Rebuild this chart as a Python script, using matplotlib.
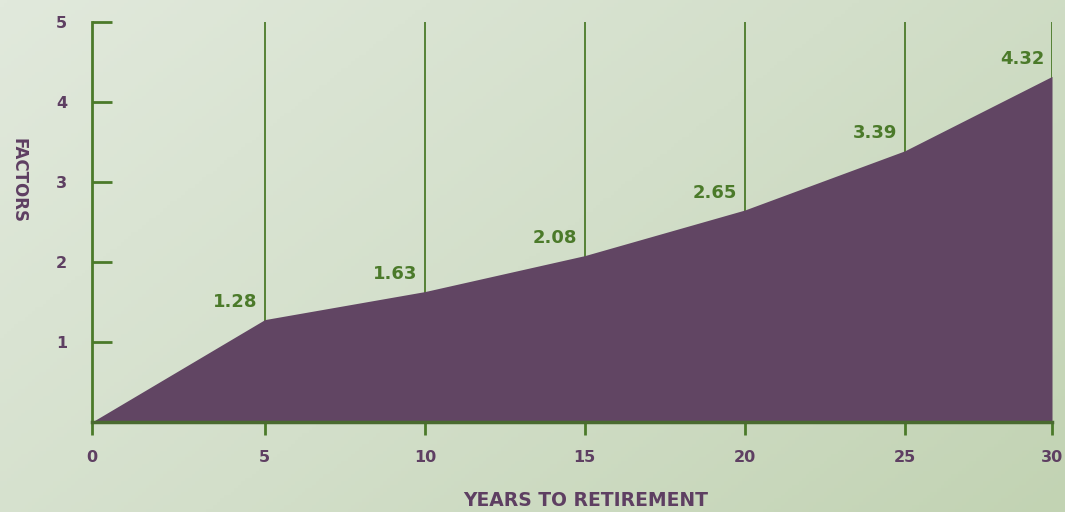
import matplotlib
matplotlib.use("Agg")
import matplotlib.pyplot as plt
import numpy as np
from matplotlib.colors import LinearSegmentedColormap

years = [0, 5, 10, 15, 20, 25, 30]
factors = [0, 1.28, 1.63, 2.08, 2.65, 3.39, 4.32]
value_labels = ["", "1.28", "1.63", "2.08", "2.65", "3.39", "4.32"]
y_ticks = [1, 2, 3, 4, 5]

PURPLE = "#614563"
GREEN = "#4b7a2a"
TICK_PURPLE = "#5e3f62"
FONT = "DejaVu Sans"

# the original chart squeezes the first/last interval a little:
# interior ticks sit ~0.4 units right of a plain linear axis
KNOTS_IN = [0, 5, 25, 30]
KNOTS_OUT = [0, 5.4, 25.4, 30]


def fwd(x):
    return np.interp(x, KNOTS_IN, KNOTS_OUT, left=-np.inf, right=np.inf)


def inv(x):
    return np.interp(x, KNOTS_OUT, KNOTS_IN)


fig = plt.figure(figsize=(10.65, 5.12), dpi=100)

# background gradient, light top-left -> darker green bottom-right
bg = fig.add_axes([0, 0, 1, 1], zorder=-10)
gx, gy = np.meshgrid(np.linspace(0, 1, 300), np.linspace(0, 1, 150))
grad = 0.62 * gx + 0.38 * gy
cmap = LinearSegmentedColormap.from_list("bg", ["#e1e9dc", "#d3dfca", "#c2d3b3"])
bg.imshow(grad, cmap=cmap, aspect="auto", extent=[0, 1, 0, 1], origin="upper")
bg.axis("off")

ax = fig.add_axes([0.0864, 0.1758, 0.9014, 0.7812])
ax.patch.set_alpha(0)
ax.set_xscale("function", functions=(fwd, inv))

ax.fill_between(years, factors, 0, color=PURPLE, lw=0, zorder=2)
for x in years[1:]:
    ax.plot([x, x], [0, 5], color=GREEN, lw=1.3, zorder=1)

for x, y, s in zip(years, factors, value_labels):
    if s:
        ax.annotate(s, (x, y), xytext=(-5.5, 6), textcoords="offset points",
                    ha="right", va="bottom", color=GREEN, fontsize=13,
                    fontweight="bold", family=FONT, zorder=3)

ax.set_xlim(0, 30)
ax.set_ylim(0, 5)
for side in ["top", "right"]:
    ax.spines[side].set_visible(False)
ax.spines["left"].set_color(GREEN)
ax.spines["left"].set_linewidth(2)
ax.spines["bottom"].set_color("#4a6a30")
ax.spines["bottom"].set_linewidth(2.5)
ax.spines["bottom"].set_zorder(4)

ax.set_xticks(years)
ax.set_xticklabels([str(v) for v in years])
ax.xaxis.set_minor_locator(matplotlib.ticker.NullLocator())
ax.set_yticks(y_ticks)
ax.set_yticklabels([str(v) for v in y_ticks])
ax.tick_params(axis="x", direction="out", length=9, width=2, color=GREEN,
               pad=11, labelcolor=TICK_PURPLE, labelsize=11.5)
ax.tick_params(axis="y", direction="in", length=14.5, width=2, color=GREEN,
               pad=18, labelcolor=TICK_PURPLE, labelsize=11.5)
for lab in ax.get_xticklabels() + ax.get_yticklabels():
    lab.set_fontweight("bold")
    lab.set_family(FONT)

fig.text(18 / 1065, 1 - 181 / 512, "FACTORS", rotation=270, ha="center",
         va="center", color=TICK_PURPLE, fontsize=12, fontweight="bold",
         family=FONT)
fig.text(586 / 1065, 2 / 512, "YEARS TO RETIREMENT", ha="center",
         va="bottom", color=TICK_PURPLE, fontsize=13.5, fontweight="bold",
         family=FONT)

fig.savefig("out.png", dpi=100)
